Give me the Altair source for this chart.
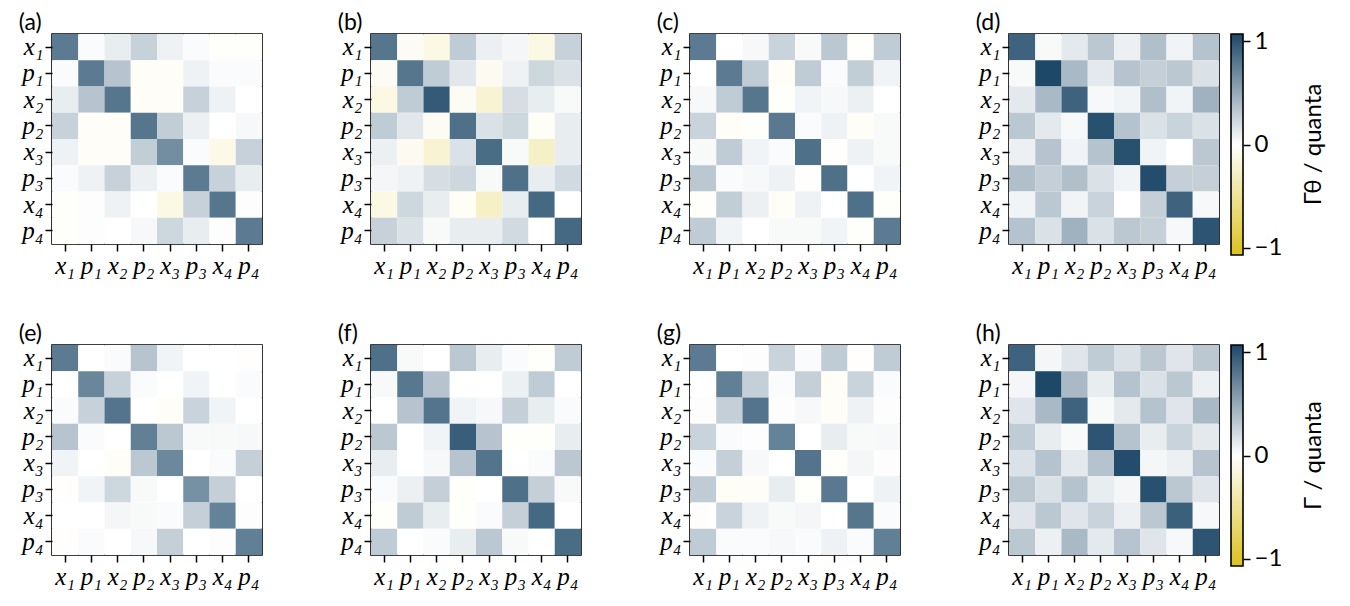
import altair as alt
import pandas as pd

labels = ["x₁", "p₁", "x₂", "p₂", "x₃", "p₃", "x₄", "p₄"]

panel_a = [
    [0.72, 0.02, 0.10, 0.25, 0.07, 0.02, -0.02, -0.02],
    [0.02, 0.72, 0.32, -0.03, -0.03, 0.07, 0.02, 0.02],
    [0.10, 0.32, 0.75, -0.03, -0.03, 0.25, 0.07, 0.00],
    [0.25, -0.03, -0.03, 0.75, 0.27, 0.08, 0.00, 0.04],
    [0.07, -0.03, -0.03, 0.27, 0.62, 0.02, -0.10, 0.25],
    [0.02, 0.07, 0.25, 0.08, 0.02, 0.72, 0.25, 0.10],
    [-0.02, 0.01, 0.07, 0.00, -0.12, 0.25, 0.75, 0.01],
    [-0.02, 0.01, 0.00, 0.04, 0.22, 0.10, 0.01, 0.72],
]
panel_b = [
    [0.75, -0.05, -0.12, 0.28, 0.08, 0.05, -0.12, 0.25],
    [-0.05, 0.75, 0.28, 0.13, -0.06, 0.07, 0.22, 0.16],
    [-0.12, 0.28, 0.90, -0.05, -0.20, 0.18, 0.10, 0.03],
    [0.28, 0.13, -0.05, 0.78, 0.16, 0.22, -0.04, 0.10],
    [0.08, -0.06, -0.20, 0.16, 0.80, 0.03, -0.25, 0.10],
    [0.05, 0.07, 0.18, 0.22, 0.03, 0.78, 0.10, 0.20],
    [-0.12, 0.22, 0.10, -0.04, -0.25, 0.10, 0.82, 0.00],
    [0.25, 0.16, 0.03, 0.10, 0.10, 0.20, 0.00, 0.82],
]
panel_c = [
    [0.72, 0.00, 0.04, 0.24, 0.03, 0.30, -0.02, 0.28],
    [0.00, 0.72, 0.28, -0.03, 0.28, 0.02, 0.27, 0.06],
    [0.04, 0.28, 0.75, -0.02, 0.06, 0.04, 0.08, 0.00],
    [0.24, -0.03, -0.02, 0.73, 0.02, 0.07, -0.03, 0.03],
    [0.03, 0.28, 0.06, 0.02, 0.78, -0.01, 0.07, 0.03],
    [0.30, 0.02, 0.04, 0.07, -0.01, 0.78, 0.00, 0.06],
    [-0.02, 0.27, 0.08, -0.03, 0.07, 0.00, 0.78, -0.02],
    [0.28, 0.06, 0.00, 0.03, 0.03, 0.06, -0.02, 0.72],
]
panel_d = [
    [0.85, 0.03, 0.12, 0.30, 0.08, 0.35, 0.06, 0.33],
    [0.03, 1.00, 0.38, 0.12, 0.32, 0.26, 0.30, 0.16],
    [0.12, 0.38, 0.85, 0.04, 0.06, 0.35, 0.06, 0.42],
    [0.30, 0.12, 0.04, 0.95, 0.33, 0.16, 0.24, 0.16],
    [0.08, 0.32, 0.06, 0.33, 0.95, 0.06, 0.00, 0.30],
    [0.35, 0.26, 0.35, 0.16, 0.06, 0.97, 0.26, 0.26],
    [0.06, 0.30, 0.06, 0.24, 0.00, 0.26, 0.85, 0.04],
    [0.33, 0.16, 0.42, 0.16, 0.30, 0.26, 0.04, 0.93],
]
panel_e = [
    [0.72, 0.00, 0.02, 0.32, 0.06, 0.00, 0.00, -0.01],
    [0.00, 0.66, 0.25, 0.02, 0.00, 0.06, 0.00, 0.02],
    [0.02, 0.25, 0.76, 0.00, -0.03, 0.24, 0.06, 0.00],
    [0.32, 0.02, 0.00, 0.70, 0.30, 0.03, 0.03, 0.04],
    [0.06, 0.00, -0.03, 0.30, 0.65, 0.00, 0.02, 0.26],
    [-0.01, 0.06, 0.22, 0.03, 0.00, 0.60, 0.26, 0.00],
    [0.00, 0.00, 0.05, 0.03, 0.02, 0.26, 0.68, 0.01],
    [-0.01, 0.02, 0.00, 0.04, 0.26, 0.00, 0.01, 0.70],
]
panel_f = [
    [0.78, 0.03, 0.00, 0.30, 0.10, 0.02, -0.02, 0.28],
    [0.03, 0.74, 0.32, 0.00, 0.00, 0.08, 0.28, 0.00],
    [0.00, 0.32, 0.76, 0.06, 0.04, 0.26, 0.10, 0.02],
    [0.30, 0.00, 0.06, 0.88, 0.32, -0.02, -0.02, 0.10],
    [0.10, 0.00, 0.04, 0.32, 0.76, 0.00, 0.02, 0.30],
    [0.02, 0.08, 0.26, -0.02, 0.00, 0.78, 0.26, 0.03],
    [-0.02, 0.28, 0.10, -0.02, 0.02, 0.26, 0.82, 0.00],
    [0.28, 0.00, 0.02, 0.10, 0.30, 0.03, 0.00, 0.80],
]
panel_g = [
    [0.72, 0.00, 0.01, 0.24, 0.02, 0.28, -0.01, 0.28],
    [0.00, 0.70, 0.26, 0.02, 0.26, -0.04, 0.24, 0.02],
    [0.01, 0.26, 0.76, 0.01, 0.04, -0.03, 0.07, 0.01],
    [0.24, 0.02, 0.01, 0.68, 0.00, 0.10, 0.03, 0.04],
    [0.02, 0.26, 0.04, 0.00, 0.76, -0.02, 0.05, 0.01],
    [0.28, -0.04, -0.03, 0.10, -0.02, 0.73, 0.00, 0.07],
    [-0.01, 0.24, 0.07, 0.03, 0.05, 0.00, 0.75, 0.02],
    [0.28, 0.02, 0.02, 0.04, 0.02, 0.07, 0.02, 0.70],
]
panel_h = [
    [0.85, 0.05, 0.14, 0.28, 0.16, 0.30, 0.14, 0.30],
    [0.05, 1.00, 0.38, 0.10, 0.33, 0.16, 0.30, 0.08],
    [0.14, 0.38, 0.85, 0.03, 0.12, 0.33, 0.14, 0.38],
    [0.28, 0.10, 0.03, 0.93, 0.33, 0.10, 0.24, 0.12],
    [0.16, 0.33, 0.12, 0.33, 0.97, 0.05, 0.08, 0.32],
    [0.30, 0.16, 0.33, 0.10, 0.05, 0.95, 0.30, 0.14],
    [0.14, 0.30, 0.14, 0.24, 0.08, 0.30, 0.87, 0.04],
    [0.30, 0.08, 0.38, 0.12, 0.32, 0.14, 0.04, 0.93],
]

top_panels = [panel_a, panel_b, panel_c, panel_d]
bottom_panels = [panel_e, panel_f, panel_g, panel_h]
top_titles = ["(a)", "(b)", "(c)", "(d)"]
bottom_titles = ["(e)", "(f)", "(g)", "(h)"]
cbar_titles = ["Γθ / quanta", "Γ / quanta"]
cbar_ticks = [-1, 0, 1]
cbar_extent = [-1.07, 1.07]
cmap_colors = ["#dcc21c", "#ffffff", "#1d4868"]

W = 210
H = 210
SANS = "Lato"
SERIF = "Liberation Serif"

color_scale = alt.Scale(domain=[-1, 0, 1], range=cmap_colors, interpolate="rgb")


def to_df(mat):
    recs = []
    for i, r in enumerate(labels):
        for j, c in enumerate(labels):
            recs.append({"row": r, "col": c, "v": mat[i][j]})
    return pd.DataFrame(recs)


def heat(mat):
    return alt.Chart(to_df(mat)).mark_rect().encode(
        x=alt.X("col:N", sort=labels, title=None,
                axis=alt.Axis(labelAngle=0, labelOverlap=False, orient="bottom")),
        y=alt.Y("row:N", sort=labels, title=None,
                axis=alt.Axis(labelOverlap=False, orient="left")),
        color=alt.Color("v:Q", scale=color_scale, legend=None),
    ).properties(width=W, height=H)


def title(t, dy=0):
    return alt.TitleParams(t, anchor="start", font=SANS, fontSize=23,
                           fontWeight="normal", color="black", offset=-1, dx=-3, dy=dy)


def colorbar(ttl):
    df = pd.DataFrame({"x0": [0], "x1": [1], "lo": [cbar_extent[0]], "hi": [cbar_extent[1]]})
    grad = alt.LinearGradient(
        gradient="linear",
        stops=[alt.GradientStop(offset=0, color=cmap_colors[0]),
               alt.GradientStop(offset=0.5, color=cmap_colors[1]),
               alt.GradientStop(offset=1, color=cmap_colors[2])],
        x1=0, x2=0, y1=1, y2=0)
    return alt.Chart(df).mark_rect(color=grad, stroke="black", strokeWidth=1.6).encode(
        x=alt.X("x0:Q", scale=alt.Scale(domain=[0, 1], range=[222, 234]), axis=None),
        x2="x1:Q",
        y=alt.Y("lo:Q", scale=alt.Scale(domain=cbar_extent, range=[221, 0]),
                axis=alt.Axis(orient="right", values=cbar_ticks, offset=24, grid=False,
                              domain=False, labelFont=SANS, labelFontStyle="normal",
                              labelFontSize=24, labelPadding=4, title=ttl,
                              titleFont=SANS, titleFontSize=24, titleFontWeight="normal",
                              titleAngle=270, titleX=70, titleY=110,
                              titleAlign="center", titleBaseline="middle",
                              titleColor="black", tickSize=7, format="d")),
        y2="hi:Q",
    )


def row(panels, titles, ctitle):
    charts = []
    for k, (m, t) in enumerate(zip(panels, titles)):
        h = heat(m)
        if k == 3:
            c = alt.layer(h, colorbar(ctitle)).resolve_scale(
                x="independent", y="independent").resolve_axis(
                x="independent", y="independent").properties(title=title(t, dy=5))
        else:
            c = h.properties(title=title(t))
        charts.append(c)
    return alt.hconcat(*charts, spacing=109, bounds="flush")


chart = alt.vconcat(
    row(top_panels, top_titles, cbar_titles[0]),
    row(bottom_panels, bottom_titles, cbar_titles[1]),
    spacing=43,
).properties(
    padding={"left": 10, "top": 3, "right": 5, "bottom": 5},
    background="white",
).configure_view(
    stroke="black", strokeWidth=1.6
).configure_axis(
    domain=False, grid=False, ticks=True, tickColor="black", tickWidth=1.5,
    tickSize=7, labelFont=SERIF, labelFontStyle="italic", labelFontSize=25,
    labelColor="black", labelPadding=2,
)

chart.save("out.html", embed_options={"renderer": "svg", "actions": False})
